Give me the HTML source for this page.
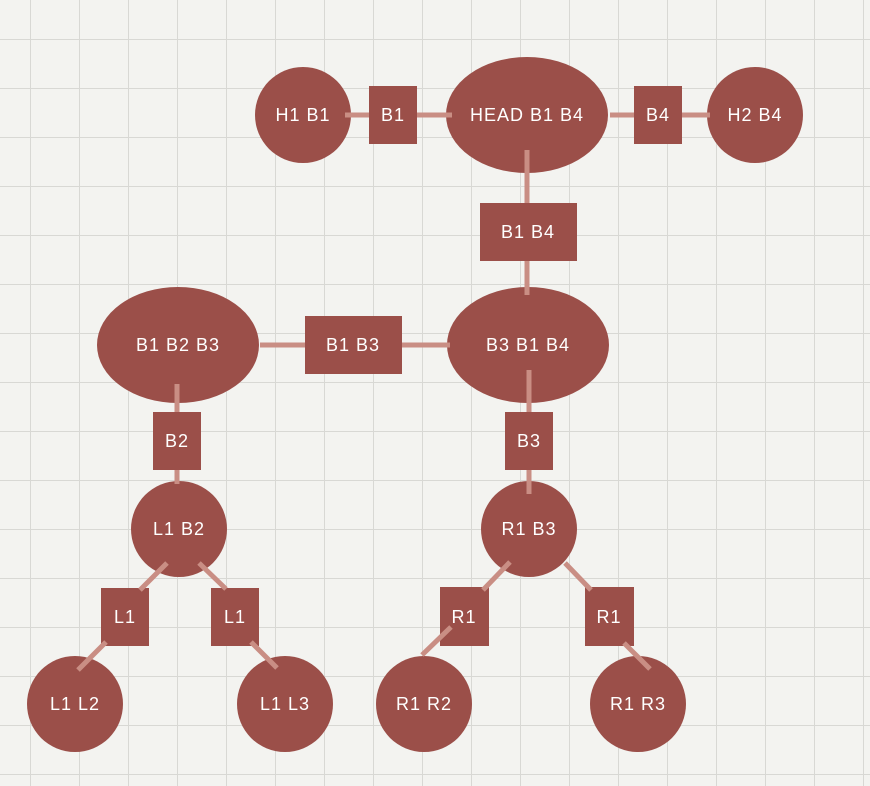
<!DOCTYPE html>
<html><head><meta charset="utf-8"><style>
html,body{margin:0;padding:0;}
body{width:870px;height:786px;overflow:hidden;background:#f3f3f0;}
svg{display:block;}
text{font-family:"Liberation Sans",sans-serif;font-size:18px;fill:#fff;text-anchor:middle;dominant-baseline:central;letter-spacing:1px;}
</style></head><body>
<svg width="870" height="786" xmlns="http://www.w3.org/2000/svg">
<defs>
<pattern id="g" x="30" y="39" width="49" height="49" patternUnits="userSpaceOnUse">
<path d="M0 0V49M0 0H49" stroke="#d8d8d4" stroke-width="2" fill="none"/>
</pattern>
</defs>
<rect width="870" height="786" fill="url(#g)"/>
<g fill="#9b4f49">
<circle cx="303" cy="115" r="48"/>
<rect x="369" y="86" width="48" height="58"/>
<ellipse cx="527" cy="115" rx="81" ry="58"/>
<rect x="634" y="86" width="48" height="58"/>
<circle cx="755" cy="115" r="48"/>
<rect x="480" y="203" width="97" height="58"/>
<ellipse cx="528" cy="345" rx="81" ry="58"/>
<rect x="305" y="316" width="97" height="58"/>
<ellipse cx="178" cy="345" rx="81" ry="58"/>
<rect x="153" y="412" width="48" height="58"/>
<rect x="505" y="412" width="48" height="58"/>
<circle cx="179" cy="529" r="48"/>
<circle cx="529" cy="529" r="48"/>
<rect x="101" y="588" width="48" height="58"/>
<rect x="211" y="588" width="48" height="58"/>
<rect x="440" y="587" width="49" height="59"/>
<rect x="585" y="587" width="49" height="59"/>
<circle cx="75" cy="704" r="48"/>
<circle cx="285" cy="704" r="48"/>
<circle cx="424" cy="704" r="48"/>
<circle cx="638" cy="704" r="48"/>
</g>
<g stroke="#c98e84" stroke-width="5" fill="none">
<path d="M345 115H369M417 115H452M610 115H634M682 115H710"/>
<path d="M527 150V203M527 261V295"/>
<path d="M402 345H450M260 345H305"/>
<path d="M177 384V412M177 470V484M529 370V412M529 470V494"/>
<path d="M167 563L140 590M199 563L226 589M106 642L78 670M251 642L277 668"/>
<path d="M510 562L483 590M565 563L591 590M451 627L422 655M624 643L650 669"/>
</g>
<text x="303" y="115">H1 B1</text>
<text x="393" y="115">B1</text>
<text x="527" y="115">HEAD B1 B4</text>
<text x="658" y="115">B4</text>
<text x="755" y="115">H2 B4</text>
<text x="528" y="232">B1 B4</text>
<text x="528" y="345">B3 B1 B4</text>
<text x="353" y="345">B1 B3</text>
<text x="178" y="345">B1 B2 B3</text>
<text x="177" y="441">B2</text>
<text x="529" y="441">B3</text>
<text x="179" y="529">L1 B2</text>
<text x="529" y="529">R1 B3</text>
<text x="125" y="617">L1</text>
<text x="235" y="617">L1</text>
<text x="464" y="617">R1</text>
<text x="609" y="617">R1</text>
<text x="75" y="704">L1 L2</text>
<text x="285" y="704">L1 L3</text>
<text x="424" y="704">R1 R2</text>
<text x="638" y="704">R1 R3</text>
</svg>
</body></html>
